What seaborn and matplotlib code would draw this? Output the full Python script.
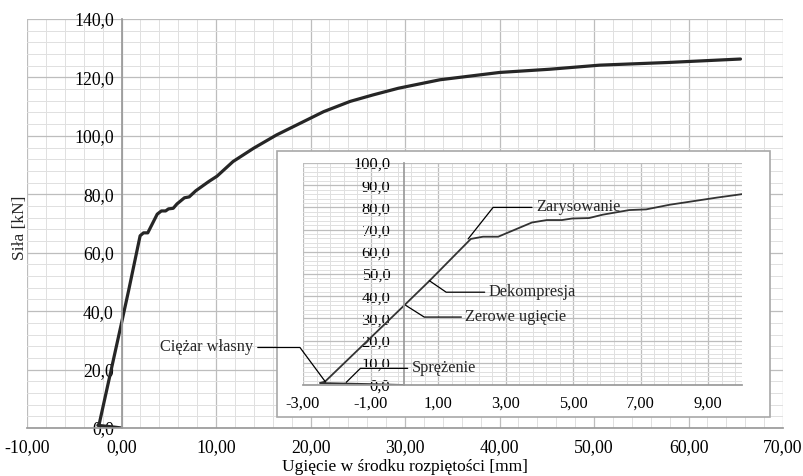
import matplotlib
matplotlib.use("Agg")
import matplotlib.pyplot as plt
from matplotlib.ticker import MultipleLocator, FuncFormatter
from matplotlib.patches import Rectangle
import numpy as np
import pandas as pd
import seaborn as sns

# deflection [mm] vs force [kN]
ugiecie = [0.0, -1.0, -2.5, -2.35, 0.0, 0.75, 1.97, 2.33, 2.78, 3.78, 4.22, 4.67,
           4.97, 5.47, 5.87, 6.66, 7.16, 7.86, 9.25, 10.11, 11.8, 14.0, 16.4,
           18.9, 21.4, 24.2, 26.6, 29.3, 33.7, 40.0, 45.3, 50.6, 57.7, 65.5]
sila = [0.0, 0.4, 0.9, 1.5, 35.9, 47.0, 65.8, 66.8, 66.8, 73.2, 74.3, 74.3,
        75.0, 75.2, 76.7, 78.8, 79.1, 81.2, 84.4, 86.2, 91.2, 95.8, 100.3,
        104.3, 108.3, 111.8, 114.0, 116.3, 119.2, 121.7, 122.8, 124.2, 125.1, 126.3]

# annotations in the inset: label, point on curve, kink, end of leader
etykiety = ["Zarysowanie", "Dekompresja", "Zerowe ugięcie", "Sprężenie", "Ciężar własny"]
punkty = [(1.89, 65.8), (0.74, 47.0), (0.04, 35.9), (-1.72, 1.2), (-2.34, 1.5)]
zalamania = [(2.63, 80.0), (1.24, 41.8), (0.59, 30.6), (-1.30, 7.5), (-3.09, 16.9)]
konce = [(3.78, 80.0), (2.38, 41.8), (1.69, 30.6), (0.10, 7.5), (-4.34, 16.9)]

df = pd.DataFrame({"x": ugiecie, "y": sila})

sns.set_theme(style="white")
plt.rcParams["font.family"] = ["Liberation Serif", "DejaVu Serif"]

fig = plt.figure(figsize=(8.04, 4.76), dpi=100)
ax = fig.add_axes([27 / 804, 1 - 428 / 476, 756 / 804, 409 / 476])

fmt2 = FuncFormatter(lambda v, p: f"{v:.2f}".replace(".", ",").replace("-0,00", "0,00"))
fmt1 = FuncFormatter(lambda v, p: f"{v:.1f}".replace(".", ",").replace("-0,0", "0,0"))


def styl(a, fs, ypad):
    a.grid(which="major", color="#bdbdbd", lw=0.9)
    a.grid(which="minor", color="#e0e0e0", lw=0.7)
    a.set_axisbelow(True)
    for s in ["top", "right"]:
        a.spines[s].set_visible(False)
    a.spines["left"].set_position(("data", 0))
    a.spines["left"].set_color("#9a9a9a")
    a.spines["bottom"].set_color("#9a9a9a")
    a.tick_params(which="major", length=4, color="#9a9a9a", labelsize=fs, labelcolor="black")
    a.tick_params(which="minor", length=0)
    a.tick_params(axis="x", pad=4)
    a.tick_params(axis="y", pad=ypad)


sns.lineplot(data=df, x="x", y="y", sort=False, estimator=None, ax=ax,
             color="#262626", lw=2.3)
ax.set_xlim(-10, 70)
ax.set_ylim(0, 140)
ax.xaxis.set_major_locator(MultipleLocator(10))
ax.xaxis.set_minor_locator(MultipleLocator(2))
ax.yaxis.set_major_locator(MultipleLocator(20))
ax.yaxis.set_minor_locator(MultipleLocator(4))
ax.xaxis.set_major_formatter(fmt2)
ax.yaxis.set_major_formatter(fmt1)
styl(ax, 12.8, 1.5)
ax.set_xlabel("Ugięcie w środku rozpiętości [mm]", fontsize=12.5, color="black", labelpad=2)
ax.set_ylabel("")
fig.text(20 / 804, 1 - 228 / 476, "Siła [kN]", rotation=90, ha="center", va="center",
         fontsize=12.5)

# white box behind the inset
fig.add_artist(Rectangle((277 / 804, 1 - 417 / 476), 493 / 804, 266 / 476,
                         transform=fig.transFigure, facecolor="white",
                         edgecolor="#a8a8a8", lw=1.2, zorder=1))

ins = fig.add_axes([303 / 804, 1 - 385 / 476, 439 / 804, 222 / 476], zorder=2)
ins.patch.set_alpha(0)
sns.lineplot(data=df, x="x", y="y", sort=False, estimator=None, ax=ins,
             color="#333333", lw=1.3)
ins.set_xlim(-3, 10)
ins.set_ylim(0, 100)
ins.set_xticks(np.arange(-3, 10, 2))
ins.xaxis.set_minor_locator(MultipleLocator(0.4, offset=0.2))
ins.yaxis.set_major_locator(MultipleLocator(10))
ins.yaxis.set_minor_locator(MultipleLocator(2))
ins.xaxis.set_major_formatter(fmt2)
ins.yaxis.set_major_formatter(fmt1)
styl(ins, 11.8, 6)
ins.set_xlabel("")
ins.set_ylabel("")

for lab, p, k, e in zip(etykiety, punkty, zalamania, konce):
    ins.plot([p[0], k[0], e[0]], [p[1], k[1], e[1]], color="black", lw=0.9,
             clip_on=False, zorder=5)
    if e[0] < k[0]:
        ins.text(e[0] - 0.15, e[1], lab, ha="right", va="center", fontsize=11.8,
                 clip_on=False, zorder=6)
    else:
        ins.text(e[0] + 0.12, e[1], lab, ha="left", va="center", fontsize=11.8,
                 clip_on=False, zorder=6)

fig.savefig("out.png", dpi=100)
